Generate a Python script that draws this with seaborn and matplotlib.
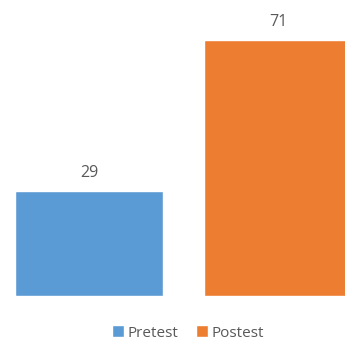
import matplotlib
matplotlib.use("Agg")
import matplotlib.pyplot as plt
import seaborn as sns
import pandas as pd
from matplotlib.patches import Patch

categories = ["Pretest", "Postest"]
values = [29, 71]
colors = ["#5B9BD5", "#ED7D31"]

sns.set_style("white")
plt.rcParams['font.family'] = ['Open Sans', 'DejaVu Sans']

df = pd.DataFrame({"cat": categories, "val": values})

W, H = 345, 341
fig = plt.figure(figsize=(W/100, H/100), dpi=100)
ax = fig.add_axes([0, 45.5/H, 1, 1 - 45.5/H])
sns.barplot(data=df, x="cat", y="val", hue="cat", palette=colors, width=0.783,
            ax=ax, legend=False, saturation=1)
ax.set_xlim(-89/189, (345-89)/189)
ax.set_ylim(0, (H-45.5)/3.6)
for c in ax.containers:
    ax.bar_label(c, padding=7, fontsize=11.5, color="#595959")
ax.axis("off")

handles = [Patch(facecolor=colors[i], label=categories[i]) for i in range(2)]
fig.legend(handles=handles, loc="center", bbox_to_anchor=(0.545, 1 - 333/H), ncol=2,
           frameon=False, fontsize=11, handlelength=0.8, handleheight=0.8,
           handletextpad=0.25, columnspacing=1.1, labelcolor="#595959")
fig.savefig("out.png", dpi=100)
